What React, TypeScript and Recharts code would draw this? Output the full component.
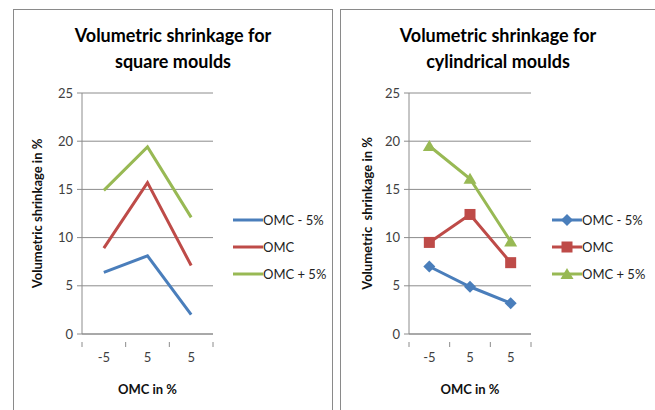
import React from 'react';
import {
  LineChart,
  Line,
  XAxis,
  YAxis,
  CartesianGrid
} from 'recharts';

const CATEGORIES = ['-5', '5', '5'];
const SERIES_NAMES = ['OMC - 5%', 'OMC', 'OMC + 5%'];
const Y_TICKS = [0, 5, 10, 15, 20, 25];

// square moulds
const SQUARE_LOW = [6.4, 8.1, 2.0];
const SQUARE_MID = [8.9, 15.7, 7.1];
const SQUARE_HIGH = [14.9, 19.4, 12.1];

// cylindrical moulds
const CYL_LOW = [7.0, 4.9, 3.2];
const CYL_MID = [9.5, 12.4, 7.4];
const CYL_HIGH = [19.5, 16.1, 9.6];

const COLORS = ['#4A7EBB', '#BE4B48', '#98B954'];
const FONT = 'Lato, "Open Sans", sans-serif';
const GRID = '#8c8c8c';

const buildRows = (low: number[], mid: number[], high: number[]) =>
  CATEGORIES.map((c, i) => ({ key: `c${i}`, label: c, low: low[i], mid: mid[i], high: high[i] }));

const squareRows = buildRows(SQUARE_LOW, SQUARE_MID, SQUARE_HIGH);
const cylRows = buildRows(CYL_LOW, CYL_MID, CYL_HIGH);

const KEYS = ['low', 'mid', 'high'];
const MARKERS = ['diamond', 'square', 'triangle'];

const Marker = ({ type, cx, cy, color }: any) => {
  if (type === 'diamond') {
    return <path d={`M${cx},${cy - 6}L${cx + 6},${cy}L${cx},${cy + 6}L${cx - 6},${cy}Z`} fill={color} />;
  }
  if (type === 'square') {
    return <rect x={cx - 5.5} y={cy - 5.5} width={11} height={11} fill={color} />;
  }
  return <path d={`M${cx},${cy - 6}L${cx + 6.5},${cy + 5}L${cx - 6.5},${cy + 5}Z`} fill={color} />;
};

interface PanelProps {
  left: number;
  width: number;
  plotWidth: number;
  titleLines: string[];
  yLabel: string;
  rows: any[];
  markers: boolean;
  legendLeft: number;
  yLabelX: number;
}

const Panel: React.FC<PanelProps> = ({ left, width, plotWidth, titleLines, yLabel, rows, markers, legendLeft, yLabelX }) => {
  const half = plotWidth / CATEGORIES.length / 2;

  const XTick = (props: any) => {
    const { x, y, index } = props;
    return (
      <g>
        <line x1={x - half} y1={y} x2={x - half} y2={y + 5} stroke={GRID} />
        {index === CATEGORIES.length - 1 && (
          <line x1={x + half} y1={y} x2={x + half} y2={y + 5} stroke={GRID} />
        )}
        <text x={x} y={y + 20} textAnchor="middle" fontSize={13} fill="#404040" fontFamily={FONT}>
          {CATEGORIES[index]}
        </text>
      </g>
    );
  };

  return (
    <div style={{ position: 'absolute', left, top: 9, width, height: 420, border: '1px solid #8a8a8a', boxSizing: 'border-box' }}>
      <div
        style={{
          position: 'absolute',
          left: 0,
          top: 12,
          width: '100%',
          textAlign: 'center',
          fontFamily: FONT,
          fontWeight: 'bold',
          fontSize: 18,
          lineHeight: '26px',
          color: '#000'
        }}
      >
        {titleLines.map(t => (
          <div key={t}>{t}</div>
        ))}
      </div>
      <div style={{ position: 'absolute', left: -1, top: -10 }}>
        <LineChart
          width={width}
          height={410}
          data={rows}
          margin={{ top: 93, right: width - 69 - plotWidth, bottom: 16, left: 0 }}
        >
          <CartesianGrid vertical={false} stroke={GRID} />
          <XAxis
            dataKey="key"
            height={60}
            stroke={GRID}
            tickLine={false}
            tick={<XTick />}
            interval={0}
            padding={{ left: half, right: half }}
            label={{ value: 'OMC in %', position: 'insideBottom', offset: 0, fontWeight: 'bold', fontSize: 13, fill: '#111', fontFamily: FONT }}
          />
          <YAxis
            width={69}
            domain={[0, 25]}
            ticks={Y_TICKS}
            stroke={GRID}
            tickSize={5}
            tick={{ fontSize: 13, fill: '#404040', fontFamily: FONT, dx: -2 }}
            label={{
              content: (p: any) => {
                const vb = p.viewBox;
                const cy = vb.y + vb.height / 2;
                return (
                  <text
                    x={yLabelX}
                    y={cy}
                    transform={`rotate(-90 ${yLabelX} ${cy})`}
                    textAnchor="middle"
                    dominantBaseline="central"
                    fontWeight="bold"
                    fontSize={13}
                    fill="#111"
                    fontFamily={FONT}
                    style={{ whiteSpace: 'pre' }}
                  >
                    {yLabel}
                  </text>
                );
              }
            }}
          />
          {KEYS.map((k, i) => (
            <Line
              key={k}
              dataKey={k}
              name={SERIES_NAMES[i]}
              stroke={COLORS[i]}
              strokeWidth={3}
              isAnimationActive={false}
              dot={
                markers
                  ? (p: any) => <Marker key={`${k}-${p.index}`} type={MARKERS[i]} cx={p.cx} cy={p.cy} color={COLORS[i]} />
                  : false
              }
              activeDot={false}
            />
          ))}
        </LineChart>
      </div>
      <div style={{ position: 'absolute', left: legendLeft, top: 196, fontFamily: FONT, fontSize: 13, color: '#222' }}>
        {SERIES_NAMES.map((name, i) => (
          <div key={name} style={{ height: 27, display: 'flex', alignItems: 'center', whiteSpace: 'nowrap' }}>
            <svg width={30} height={14}>
              <line x1={0} y1={7} x2={30} y2={7} stroke={COLORS[i]} strokeWidth={3} />
              {markers && <Marker type={MARKERS[i]} cx={15} cy={7} color={COLORS[i]} />}
            </svg>
            <span>{name}</span>
          </div>
        ))}
      </div>
    </div>
  );
};

const App: React.FC = () => {
  return (
    <div style={{ position: 'absolute', left: 0, top: 0, width: 655, height: 410, overflow: 'hidden', background: '#fff' }}>
      <Panel
        left={13}
        width={320}
        plotWidth={131}
        titleLines={['Volumetric shrinkage for', 'square moulds']}
        yLabel="Volumetric shrinkage in %"
        rows={squareRows}
        markers={false}
        legendLeft={219}
        yLabelX={24}
      />
      <Panel
        left={340}
        width={316}
        plotWidth={122}
        titleLines={['Volumetric shrinkage for', 'cylindrical moulds']}
        yLabel="Volumetric  shrinkage in %"
        rows={cylRows}
        markers={true}
        legendLeft={211}
        yLabelX={27}
      />
    </div>
  );
};

export default App;
